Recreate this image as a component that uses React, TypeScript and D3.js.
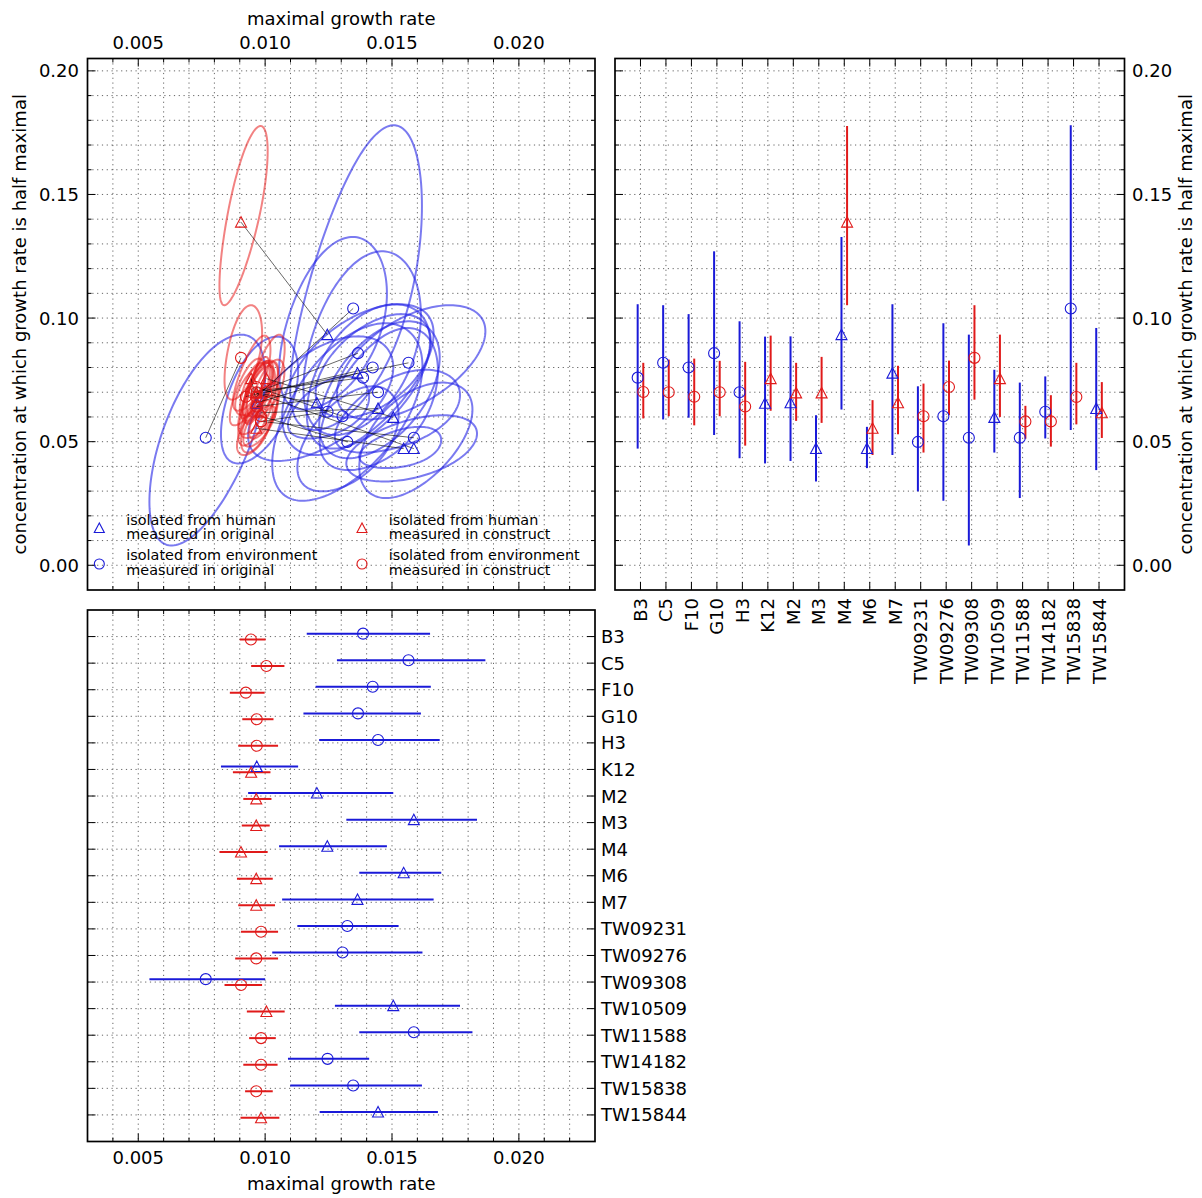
import React from "react";
import * as d3 from "d3";

// Strains and where they were isolated
const strains = ["B3", "C5", "F10", "G10", "H3", "K12", "M2", "M3", "M4", "M6", "M7",
  "TW09231", "TW09276", "TW09308", "TW10509", "TW11588", "TW14182", "TW15838", "TW15844"];
const fromHuman = [false, false, false, false, false, true, true, true, true, true, true,
  false, false, false, true, false, false, false, true];

// Maximal growth rate, measured in the original strain (estimate, low, high)
const origRate = [0.01386, 0.01565, 0.01424, 0.01366, 0.01445, 0.00967, 0.01204, 0.01586, 0.01245, 0.01546,
  0.01364, 0.01324, 0.01305, 0.00766, 0.01505, 0.01586, 0.01246, 0.01347, 0.01445];
const origRateLo = [0.01164, 0.01283, 0.01199, 0.01151, 0.01213, 0.00826, 0.00933, 0.0132, 0.01055, 0.01371,
  0.01067, 0.01127, 0.01028, 0.00544, 0.01275, 0.01371, 0.0109, 0.01099, 0.01215];
const origRateHi = [0.0165, 0.01868, 0.01653, 0.01614, 0.01688, 0.0113, 0.01505, 0.01835, 0.0148, 0.01694,
  0.01664, 0.01526, 0.0162, 0.0100, 0.01768, 0.01817, 0.0141, 0.01618, 0.01681];

// Maximal growth rate, measured in the construct
const constRate = [0.00944, 0.01005, 0.00924, 0.00967, 0.00967, 0.00945, 0.00965, 0.00965, 0.00905, 0.00965,
  0.00965, 0.00984, 0.00965, 0.00905, 0.01005, 0.00984, 0.00984, 0.00965, 0.00984];
const constRateLo = [0.0090, 0.00945, 0.00861, 0.0091, 0.00894, 0.00873, 0.00914, 0.00908, 0.0082, 0.00889,
  0.00894, 0.00905, 0.00882, 0.0084, 0.00928, 0.00937, 0.00914, 0.00921, 0.00903];
const constRateHi = [0.01002, 0.01076, 0.00998, 0.01033, 0.01051, 0.01021, 0.01025, 0.01018, 0.0101, 0.0103,
  0.01039, 0.01051, 0.01051, 0.00988, 0.01077, 0.01042, 0.01049, 0.0103, 0.01056];

// Half-saturation concentration, original strain
const origK = [0.0759, 0.0819, 0.080, 0.0858, 0.070, 0.0655, 0.0657, 0.0472, 0.0933, 0.0472,
  0.0777, 0.0499, 0.0603, 0.0516, 0.0598, 0.0516, 0.0621, 0.1039, 0.0634];
const origKLo = [0.0472, 0.059, 0.0597, 0.0527, 0.0433, 0.0412, 0.0422, 0.0339, 0.063, 0.0393,
  0.0446, 0.0299, 0.0261, 0.008, 0.0456, 0.0272, 0.0513, 0.0547, 0.0385];
const origKHi = [0.1056, 0.1052, 0.1016, 0.127, 0.0987, 0.0925, 0.0926, 0.0607, 0.1328, 0.056,
  0.1056, 0.0724, 0.0979, 0.0933, 0.0791, 0.0739, 0.0764, 0.178, 0.096];

// Half-saturation concentration, construct
const constK = [0.0701, 0.070, 0.0682, 0.070, 0.0642, 0.0755, 0.0697, 0.0697, 0.1388, 0.0554,
  0.0657, 0.0603, 0.0721, 0.0839, 0.0755, 0.0582, 0.0582, 0.0681, 0.0617];
const constKLo = [0.0594, 0.0603, 0.0566, 0.0603, 0.0484, 0.0625, 0.0584, 0.0576, 0.1052, 0.0446,
  0.053, 0.0456, 0.0607, 0.067, 0.060, 0.0512, 0.048, 0.057, 0.0515];
const constKHi = [0.0819, 0.0832, 0.0836, 0.0827, 0.0823, 0.0929, 0.0819, 0.0843, 0.1777, 0.0668,
  0.0807, 0.0735, 0.0828, 0.1052, 0.0933, 0.0645, 0.0688, 0.0819, 0.0741];

// Correlation between the two parameter estimates (shapes the confidence regions)
const origRho = [0.5, 0.55, 0.5, 0.4, 0.5, 0.5, 0.55, 0.45, 0.45, 0.4,
  0.55, 0.5, 0.55, 0.6, 0.5, 0.5, 0.45, 0.6, 0.5];
const constRho = [0.7, 0.65, 0.7, 0.7, 0.7, 0.7, 0.7, 0.7, 0.75, 0.65,
  0.7, 0.7, 0.65, 0.5, 0.7, 0.65, 0.7, 0.7, 0.7];

// Axis ticks
const rateMinor = d3.range(4, 23).map((d) => d / 1000);
const rateMajor = [0.005, 0.01, 0.015, 0.02];
const kMinor = d3.range(0, 21).map((d) => d / 100);
const kMajor = [0, 0.05, 0.1, 0.15, 0.2];

const W = 1202;
const H = 1198;
const FONT = "'DejaVu Sans', sans-serif";
const BLUE = "#1a1ad8";
const RED = "#e01a1a";
const ELL_BLUE = "#2222e6";
const ELL_RED = "#e81c1c";

const colL: [number, number] = [87.5, 595];
const colR: [number, number] = [615, 1124.5];
const rowT: [number, number] = [58.5, 590];
const rowB: [number, number] = [610, 1141.5];

const rateX = d3.scaleLinear().domain([0.003, 0.023]).range(colL);
const kY = d3.scaleLinear().domain([-0.01, 0.205]).range([rowT[1], rowT[0]]);
const catX = d3.scaleLinear().domain([-1, 19]).range(colR);
const catY = d3.scaleLinear().domain([-1, 19]).range(rowB);
const OFF = 0.11;

const fmtRate = d3.format(".3f");
const fmtK = d3.format(".2f");
const idx = strains.map((_, i) => i);

function isMajor(v: number, list: number[]) {
  return list.some((m) => Math.abs(m - v) < 1e-9);
}

function Marker({ x, y, tri, color, s = 11 }: { x: number; y: number; tri: boolean; color: string; s?: number }) {
  const h = s / 2;
  if (tri) {
    return <path d={`M${x},${y - h}L${x - h},${y + h * 0.9}L${x + h},${y + h * 0.9}Z`} fill="none" stroke={color} strokeWidth={1.1} />;
  }
  return <circle cx={x} cy={y} r={h} fill="none" stroke={color} strokeWidth={1.1} />;
}

// Skewed confidence contour whose extent matches the interval on both axes
function contour(c: number, lo: number, hi: number) {
  const m = (hi - lo) / 2;
  let d = (hi + lo) / 2 - c;
  const lim = m * 0.5;
  d = Math.max(-lim, Math.min(lim, d));
  return (u: number) => c + m * u + d * u * u;
}

function eggPath(cx: number, xlo: number, xhi: number, cy: number, ylo: number, yhi: number, rho: number) {
  const fx = contour(cx, xlo, xhi);
  const fy = contour(cy, ylo, yhi);
  const s = Math.sqrt(1 - rho * rho);
  const pts: [number, number][] = d3.range(0, 160).map((k) => {
    const t = (k / 160) * Math.PI * 2;
    const u = Math.cos(t);
    const v = rho * Math.cos(t) + s * Math.sin(t);
    return [rateX(fx(u)), kY(fy(v))];
  });
  return d3.line().curve(d3.curveLinearClosed)(pts) || "";
}

const gridStyle = { stroke: "#333", strokeWidth: 0.75, strokeDasharray: "1.2,3.6" };
const textStyle = { fontFamily: FONT, fontSize: 18, fill: "#000" };

function Frame({ x0, x1, y0, y1 }: { x0: number; x1: number; y0: number; y1: number }) {
  return <rect x={x0} y={y0} width={x1 - x0} height={y1 - y0} fill="none" stroke="#000" strokeWidth={1.7} />;
}

function VTicks({ xs, majors, y0, y1 }: { xs: number[]; majors: boolean[]; y0: number; y1: number }) {
  return (
    <g stroke="#000" strokeWidth={1}>
      {xs.map((x, i) => {
        const L = majors[i] ? 8 : 4;
        return (
          <g key={i}>
            <line x1={x} x2={x} y1={y1} y2={y1 - L} />
            <line x1={x} x2={x} y1={y0} y2={y0 + L} />
          </g>
        );
      })}
    </g>
  );
}

function HTicks({ ys, majors, x0, x1 }: { ys: number[]; majors: boolean[]; x0: number; x1: number }) {
  return (
    <g stroke="#000" strokeWidth={1}>
      {ys.map((y, i) => {
        const L = majors[i] ? 8 : 4;
        return (
          <g key={i}>
            <line x1={x0} x2={x0 + L} y1={y} y2={y} />
            <line x1={x1} x2={x1 - L} y1={y} y2={y} />
          </g>
        );
      })}
    </g>
  );
}

function Legend() {
  const entries = [
    { x: 99.3, tx: 126.3, my: 528, l1: 524.5, tri: true, color: BLUE, a: "isolated from human", b: "measured in original" },
    { x: 99.3, tx: 126.3, my: 564, l1: 560, tri: false, color: BLUE, a: "isolated from environment", b: "measured in original" },
    { x: 362, tx: 388.7, my: 528, l1: 524.5, tri: true, color: RED, a: "isolated from human", b: "measured in construct" },
    { x: 362, tx: 388.7, my: 564, l1: 560, tri: false, color: RED, a: "isolated from environment", b: "measured in construct" },
  ];
  return (
    <g>
      {entries.map((e, i) => (
        <g key={i}>
          <Marker x={e.x} y={e.my} tri={e.tri} color={e.color} s={10} />
          <text x={e.tx} y={e.l1} style={{ fontFamily: FONT, fontSize: 14.4, fill: "#000" }}>{e.a}</text>
          <text x={e.tx} y={e.l1 + 14.5} style={{ fontFamily: FONT, fontSize: 14.4, fill: "#000" }}>{e.b}</text>
        </g>
      ))}
    </g>
  );
}

function ScatterPanel() {
  const [x0, x1] = colL;
  const [y0, y1] = rowT;
  return (
    <g>
      <defs>
        <clipPath id="clipScatter">
          <rect x={x0} y={y0} width={x1 - x0} height={y1 - y0} />
        </clipPath>
      </defs>
      <g style={gridStyle as any}>
        {rateMinor.map((v) => <line key={"gx" + v} x1={rateX(v)} x2={rateX(v)} y1={y0} y2={y1} />)}
        {kMinor.map((v) => <line key={"gy" + v} x1={x0} x2={x1} y1={kY(v)} y2={kY(v)} />)}
      </g>
      <g clipPath="url(#clipScatter)" fill="none" strokeWidth={2}>
        {idx.map((i) => (
          <path key={"eb" + i} d={eggPath(origRate[i], origRateLo[i], origRateHi[i], origK[i], origKLo[i], origKHi[i], origRho[i])}
            stroke={ELL_BLUE} strokeOpacity={0.6} />
        ))}
        {idx.map((i) => (
          <path key={"er" + i} d={eggPath(constRate[i], constRateLo[i], constRateHi[i], constK[i], constKLo[i], constKHi[i], constRho[i])}
            stroke={ELL_RED} strokeOpacity={0.55} />
        ))}
      </g>
      <g stroke="#000" strokeWidth={0.7} strokeOpacity={0.85}>
        {idx.map((i) => (
          <line key={"ln" + i} x1={rateX(origRate[i])} y1={kY(origK[i])} x2={rateX(constRate[i])} y2={kY(constK[i])} />
        ))}
      </g>
      {idx.map((i) => (
        <Marker key={"mb" + i} x={rateX(origRate[i])} y={kY(origK[i])} tri={fromHuman[i]} color={BLUE} />
      ))}
      {idx.map((i) => (
        <Marker key={"mr" + i} x={rateX(constRate[i])} y={kY(constK[i])} tri={fromHuman[i]} color={RED} />
      ))}
      <VTicks xs={rateMinor.map((v) => rateX(v))} majors={rateMinor.map((v) => isMajor(v, rateMajor))} y0={y0} y1={y1} />
      <HTicks ys={kMinor.map((v) => kY(v))} majors={kMinor.map((v) => isMajor(v, kMajor))} x0={x0} x1={x1} />
      <Frame x0={x0} x1={x1} y0={y0} y1={y1} />
      {rateMajor.map((v) => (
        <text key={"tx" + v} x={rateX(v)} y={48.5} textAnchor="middle" style={textStyle}>{fmtRate(v)}</text>
      ))}
      {kMajor.map((v) => (
        <text key={"ty" + v} x={79} y={kY(v) + 6.5} textAnchor="end" style={textStyle}>{fmtK(v)}</text>
      ))}
      <text x={(x0 + x1) / 2} y={25} textAnchor="middle" style={textStyle}>maximal growth rate</text>
      <text transform={`translate(26,${(y0 + y1) / 2}) rotate(-90)`} textAnchor="middle" style={textStyle}>
        concentration at which growth rate is half maximal
      </text>
      <Legend />
    </g>
  );
}

function KPanel() {
  const [x0, x1] = colR;
  const [y0, y1] = rowT;
  return (
    <g>
      <g style={gridStyle as any}>
        {idx.map((i) => <line key={"gx" + i} x1={catX(i)} x2={catX(i)} y1={y0} y2={y1} />)}
        {kMinor.map((v) => <line key={"gy" + v} x1={x0} x2={x1} y1={kY(v)} y2={kY(v)} />)}
      </g>
      <g strokeWidth={2}>
        {idx.map((i) => (
          <line key={"bb" + i} x1={catX(i - OFF)} x2={catX(i - OFF)} y1={kY(origKLo[i])} y2={kY(origKHi[i])} stroke={BLUE} />
        ))}
        {idx.map((i) => (
          <line key={"br" + i} x1={catX(i + OFF)} x2={catX(i + OFF)} y1={kY(constKLo[i])} y2={kY(constKHi[i])} stroke={RED} />
        ))}
      </g>
      {idx.map((i) => <Marker key={"mb" + i} x={catX(i - OFF)} y={kY(origK[i])} tri={fromHuman[i]} color={BLUE} />)}
      {idx.map((i) => <Marker key={"mr" + i} x={catX(i + OFF)} y={kY(constK[i])} tri={fromHuman[i]} color={RED} />)}
      <VTicks xs={idx.map((i) => catX(i))} majors={idx.map(() => true)} y0={y0} y1={y1} />
      <HTicks ys={kMinor.map((v) => kY(v))} majors={kMinor.map((v) => isMajor(v, kMajor))} x0={x0} x1={x1} />
      <Frame x0={x0} x1={x1} y0={y0} y1={y1} />
      {idx.map((i) => (
        <text key={"tc" + i} transform={`translate(${catX(i) + 6.5},${y1 + 8}) rotate(-90)`} textAnchor="end" style={textStyle}>
          {strains[i]}
        </text>
      ))}
      {kMajor.map((v) => (
        <text key={"ty" + v} x={1132} y={kY(v) + 6.5} textAnchor="start" style={textStyle}>{fmtK(v)}</text>
      ))}
      <text transform={`translate(1192,${(y0 + y1) / 2}) rotate(-90)`} textAnchor="middle" style={textStyle}>
        concentration at which growth rate is half maximal
      </text>
    </g>
  );
}

function RatePanel() {
  const [x0, x1] = colL;
  const [y0, y1] = rowB;
  return (
    <g>
      <g style={gridStyle as any}>
        {rateMinor.map((v) => <line key={"gx" + v} x1={rateX(v)} x2={rateX(v)} y1={y0} y2={y1} />)}
        {idx.map((i) => <line key={"gy" + i} x1={x0} x2={x1} y1={catY(i)} y2={catY(i)} />)}
      </g>
      <g strokeWidth={2}>
        {idx.map((i) => (
          <line key={"bb" + i} x1={rateX(origRateLo[i])} x2={rateX(origRateHi[i])} y1={catY(i - OFF)} y2={catY(i - OFF)} stroke={BLUE} />
        ))}
        {idx.map((i) => (
          <line key={"br" + i} x1={rateX(constRateLo[i])} x2={rateX(constRateHi[i])} y1={catY(i + OFF)} y2={catY(i + OFF)} stroke={RED} />
        ))}
      </g>
      {idx.map((i) => <Marker key={"mb" + i} x={rateX(origRate[i])} y={catY(i - OFF)} tri={fromHuman[i]} color={BLUE} />)}
      {idx.map((i) => <Marker key={"mr" + i} x={rateX(constRate[i])} y={catY(i + OFF)} tri={fromHuman[i]} color={RED} />)}
      <VTicks xs={rateMinor.map((v) => rateX(v))} majors={rateMinor.map((v) => isMajor(v, rateMajor))} y0={y0} y1={y1} />
      <HTicks ys={idx.map((i) => catY(i))} majors={idx.map(() => true)} x0={x0} x1={x1} />
      <Frame x0={x0} x1={x1} y0={y0} y1={y1} />
      {idx.map((i) => (
        <text key={"tc" + i} x={601} y={catY(i) + 6.5} style={textStyle}>{strains[i]}</text>
      ))}
      {rateMajor.map((v) => (
        <text key={"tx" + v} x={rateX(v)} y={1163.5} textAnchor="middle" style={textStyle}>{fmtRate(v)}</text>
      ))}
      <text x={(x0 + x1) / 2} y={1190} textAnchor="middle" style={textStyle}>maximal growth rate</text>
    </g>
  );
}

export default function App() {
  return (
    <svg width={W} height={H} viewBox={`0 0 ${W} ${H}`} style={{ position: "absolute", left: 0, top: 0, background: "#fff" }}>
      <rect x={0} y={0} width={W} height={H} fill="#fff" />
      <ScatterPanel />
      <KPanel />
      <RatePanel />
    </svg>
  );
}
